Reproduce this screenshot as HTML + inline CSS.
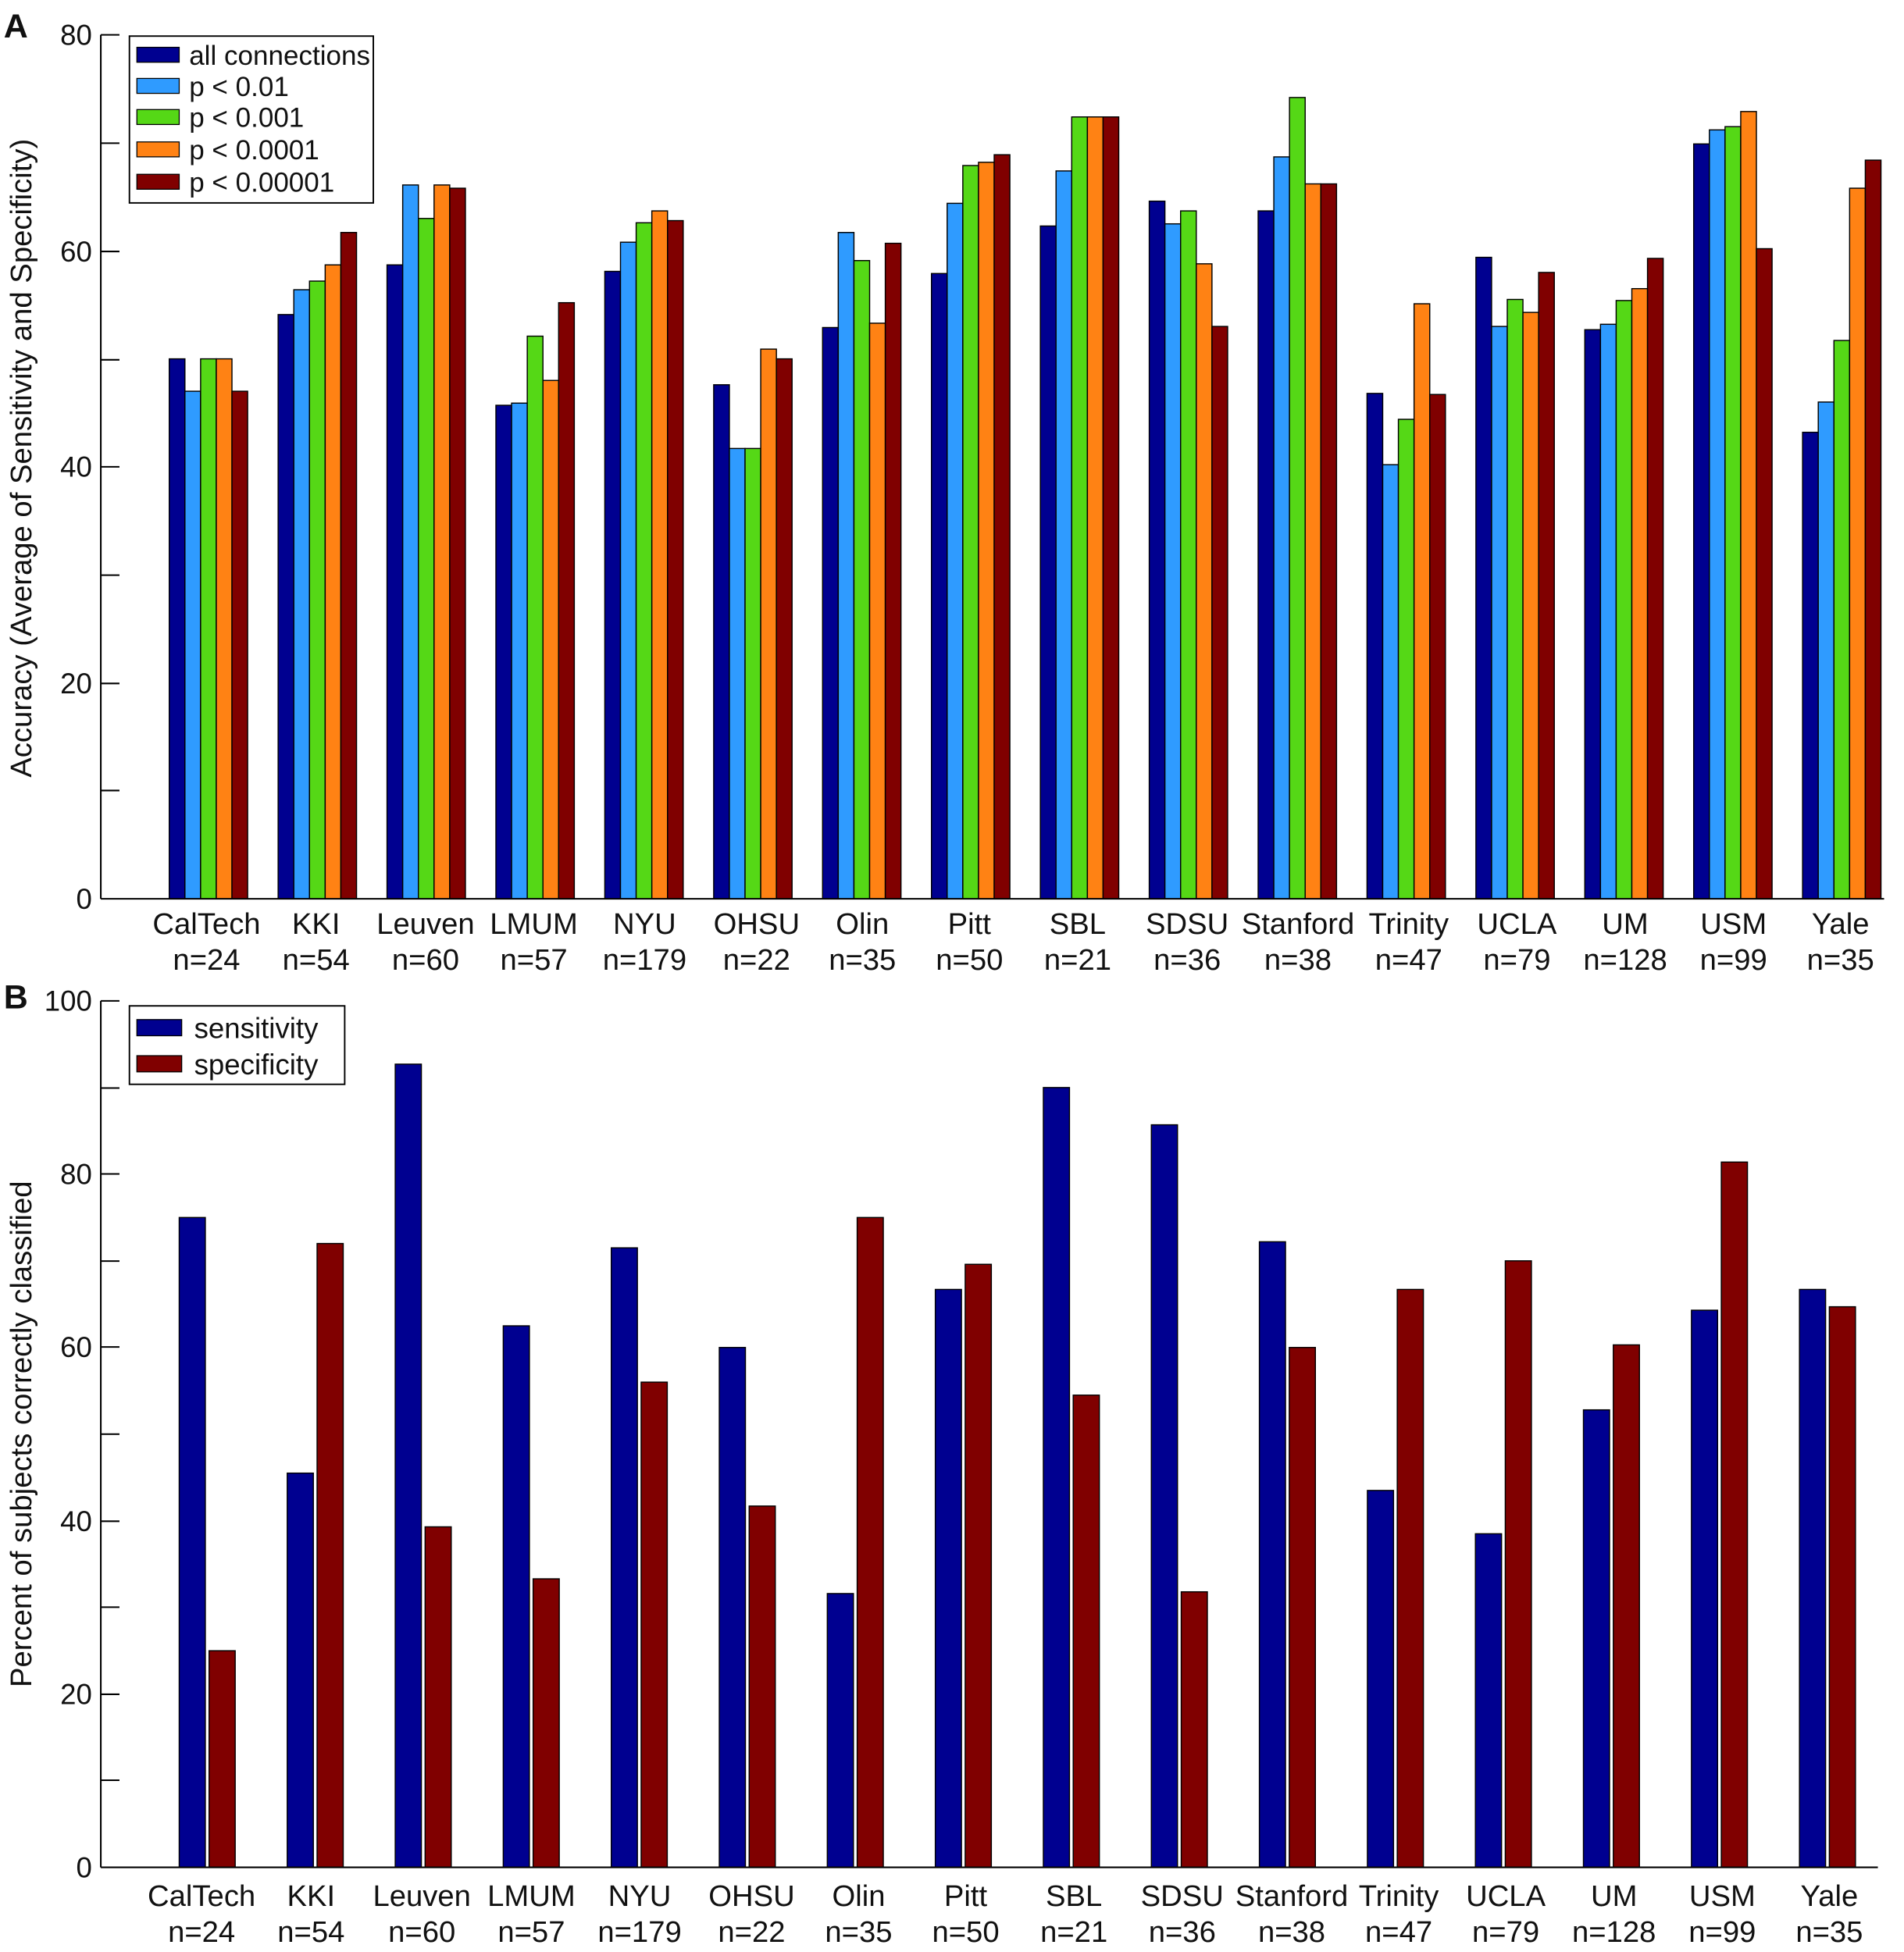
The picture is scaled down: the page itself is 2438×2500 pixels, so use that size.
<!DOCTYPE html>
<html><head><meta charset="utf-8"><style>
html,body{margin:0;padding:0;background:#fff;}
svg{display:block;}
text{font-family:"Liberation Sans",Arial,sans-serif;fill:#111;}
</style></head><body>
<svg id="s" width="2438" height="2500" viewBox="0 0 1530 1568" preserveAspectRatio="none" xmlns="http://www.w3.org/2000/svg">
<rect width="1530" height="1568" fill="#fff"/>
<g id="bars"></g>
<g stroke="#000" stroke-width="1.3" fill="none">
<line x1="81" y1="28" x2="81" y2="722"/>
<line x1="81" y1="722" x2="1514" y2="722"/>
<line x1="81" y1="28" x2="96" y2="28"/><line x1="81" y1="115" x2="96" y2="115"/>
<line x1="81" y1="202" x2="96" y2="202"/><line x1="81" y1="289" x2="96" y2="289"/>
<line x1="81" y1="375" x2="96" y2="375"/><line x1="81" y1="462" x2="96" y2="462"/>
<line x1="81" y1="549" x2="96" y2="549"/><line x1="81" y1="635" x2="96" y2="635"/>
<line x1="81" y1="804" x2="81" y2="1500"/>
<line x1="81" y1="1500" x2="1509" y2="1500"/>
<line x1="81" y1="804" x2="96" y2="804"/><line x1="81" y1="874" x2="96" y2="874"/>
<line x1="81" y1="943" x2="96" y2="943"/><line x1="81" y1="1013" x2="96" y2="1013"/>
<line x1="81" y1="1082" x2="96" y2="1082"/><line x1="81" y1="1152" x2="96" y2="1152"/>
<line x1="81" y1="1222" x2="96" y2="1222"/><line x1="81" y1="1291" x2="96" y2="1291"/>
<line x1="81" y1="1361" x2="96" y2="1361"/><line x1="81" y1="1430" x2="96" y2="1430"/>
</g>
<g font-size="23" text-anchor="end">
<text x="74" y="36">80</text><text x="74" y="210">60</text><text x="74" y="383">40</text><text x="74" y="557">20</text><text x="74" y="730">0</text>
<text x="74" y="812">100</text><text x="74" y="951">80</text><text x="74" y="1090">60</text><text x="74" y="1230">40</text><text x="74" y="1369">20</text><text x="74" y="1508">0</text>
</g>
<text x="3" y="30" font-size="27" font-weight="bold">A</text>
<text x="3" y="810" font-size="27" font-weight="bold">B</text>
<text transform="translate(25,368) rotate(-90)" font-size="24" text-anchor="middle">Accuracy (Average of Sensitivity and Specificity)</text>
<text transform="translate(25,1152) rotate(-90)" font-size="24" text-anchor="middle">Percent of subjects correctly classified</text>
<g font-size="24" text-anchor="middle">
<text x="166" y="750">CalTech</text><text x="166" y="779">n=24</text>
<text x="254" y="750">KKI</text><text x="254" y="779">n=54</text>
<text x="342" y="750">Leuven</text><text x="342" y="779">n=60</text>
<text x="429" y="750">LMUM</text><text x="429" y="779">n=57</text>
<text x="518" y="750">NYU</text><text x="518" y="779">n=179</text>
<text x="608" y="750">OHSU</text><text x="608" y="779">n=22</text>
<text x="693" y="750">Olin</text><text x="693" y="779">n=35</text>
<text x="779" y="750">Pitt</text><text x="779" y="779">n=50</text>
<text x="866" y="750">SBL</text><text x="866" y="779">n=21</text>
<text x="954" y="750">SDSU</text><text x="954" y="779">n=36</text>
<text x="1043" y="750">Stanford</text><text x="1043" y="779">n=38</text>
<text x="1132" y="750">Trinity</text><text x="1132" y="779">n=47</text>
<text x="1219" y="750">UCLA</text><text x="1219" y="779">n=79</text>
<text x="1306" y="750">UM</text><text x="1306" y="779">n=128</text>
<text x="1393" y="750">USM</text><text x="1393" y="779">n=99</text>
<text x="1479" y="750">Yale</text><text x="1479" y="779">n=35</text>

<text x="162" y="1531">CalTech</text><text x="162" y="1560">n=24</text>
<text x="250" y="1531">KKI</text><text x="250" y="1560">n=54</text>
<text x="339" y="1531">Leuven</text><text x="339" y="1560">n=60</text>
<text x="427" y="1531">LMUM</text><text x="427" y="1560">n=57</text>
<text x="514" y="1531">NYU</text><text x="514" y="1560">n=179</text>
<text x="604" y="1531">OHSU</text><text x="604" y="1560">n=22</text>
<text x="690" y="1531">Olin</text><text x="690" y="1560">n=35</text>
<text x="776" y="1531">Pitt</text><text x="776" y="1560">n=50</text>
<text x="863" y="1531">SBL</text><text x="863" y="1560">n=21</text>
<text x="950" y="1531">SDSU</text><text x="950" y="1560">n=36</text>
<text x="1038" y="1531">Stanford</text><text x="1038" y="1560">n=38</text>
<text x="1124" y="1531">Trinity</text><text x="1124" y="1560">n=47</text>
<text x="1210" y="1531">UCLA</text><text x="1210" y="1560">n=79</text>
<text x="1297" y="1531">UM</text><text x="1297" y="1560">n=128</text>
<text x="1384" y="1531">USM</text><text x="1384" y="1560">n=99</text>
<text x="1470" y="1531">Yale</text><text x="1470" y="1560">n=35</text>
</g>
<rect x="104" y="29" width="196" height="134" fill="#fff" stroke="#000" stroke-width="1.2"/>
<g stroke="#000" stroke-width="0.8">
<rect x="110" y="38" width="34" height="12" fill="#000090"/>
<rect x="110" y="63" width="34" height="12" fill="#2f9bff"/>
<rect x="110" y="88" width="34" height="12" fill="#55d816"/>
<rect x="110" y="114" width="34" height="12" fill="#ff8214"/>
<rect x="110" y="140" width="34" height="12" fill="#800000"/>
</g>
<g font-size="22">
<text x="152" y="52">all connections</text>
<text x="152" y="77">p &lt; 0.01</text>
<text x="152" y="102">p &lt; 0.001</text>
<text x="152" y="128">p &lt; 0.0001</text>
<text x="152" y="154">p &lt; 0.00001</text>
</g>
<rect x="104" y="808" width="173" height="63" fill="#fff" stroke="#000" stroke-width="1.2"/>
<g stroke="#000" stroke-width="0.8">
<rect x="110" y="819" width="36" height="13" fill="#000090"/>
<rect x="110" y="848" width="36" height="13" fill="#800000"/>
</g>
<g font-size="23">
<text x="156" y="834">sensitivity</text>
<text x="156" y="863">specificity</text>
</g>
</svg>
<script>
(function(){
var g=document.getElementById('bars'),ns='http://www.w3.org/2000/svg';
function r(x,y,w,h,c){var e=document.createElementNS(ns,'rect');e.setAttribute('x',x);e.setAttribute('y',y);e.setAttribute('width',w);e.setAttribute('height',h);e.setAttribute('fill',c);e.setAttribute('stroke','#000');e.setAttribute('stroke-width','0.9');g.appendChild(e);}
var A=[[50,47,50,50,47],[54.1,56.4,57.2,58.7,61.7],[58.7,66.1,63.0,66.1,65.8],[45.7,45.9,52.1,48.0,55.2],[58.1,60.8,62.6,63.7,62.8],[47.6,41.7,41.7,50.9,50.0],[52.9,61.7,59.1,53.3,60.7],[57.9,64.4,67.9,68.2,68.9],[62.3,67.4,72.4,72.4,72.4],[64.6,62.5,63.7,58.8,53.0],[63.7,68.7,74.2,66.2,66.2],[46.8,40.2,44.4,55.1,46.7],[59.4,53.0,55.5,54.3,58.0],[52.7,53.2,55.4,56.5,59.3],[69.9,71.2,71.5,72.9,60.2],[43.2,46.0,51.7,65.8,68.4]];
var cA=['#000090','#2f9bff','#55d816','#ff8214','#800000'];
A.forEach(function(d,i){var c=167.5+87.5*i;d.forEach(function(v,j){var h=v*8.675;r(c-31.5+12.6*j,722-h,12.6,h,cA[j]);});});
var B=[[75,25],[45.5,72],[92.7,39.3],[62.5,33.3],[71.5,56],[60,41.7],[31.6,75],[66.7,69.6],[90,54.5],[85.7,31.8],[72.2,60],[43.5,66.7],[38.5,70],[52.8,60.3],[64.3,81.4],[66.7,64.7]];
B.forEach(function(d,i){var c=166+86.8*i;r(c-22,1500-d[0]*6.96,21,d[0]*6.96,'#000090');r(c+2,1500-d[1]*6.96,21,d[1]*6.96,'#800000');});
})();
</script>
</body></html>
